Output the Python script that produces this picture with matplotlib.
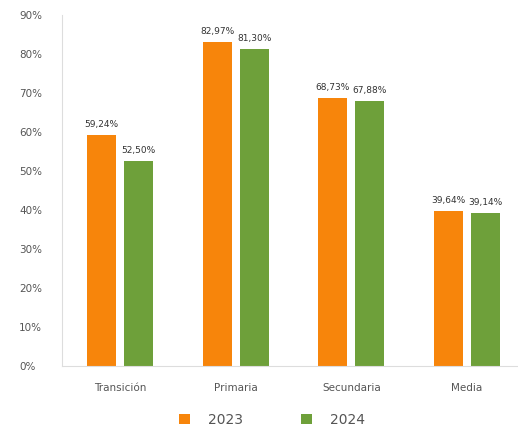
import numpy as np
import matplotlib.pyplot as plt

categories = ["Transición", "Primaria", "Secundaria", "Media"]
years = ["2023", "2024"]
values_2023 = [59.24, 82.97, 68.73, 39.64]
values_2024 = [52.50, 81.30, 67.88, 39.14]

orange = "#F7850B"
green = "#6EA03A"
text_gray = "#555555"

fig = plt.figure(figsize=(5.18, 4.33), dpi=100)
fig.patch.set_facecolor("white")
ax = fig.add_axes([62 / 518, 1 - 366 / 433, 456 / 518, 351 / 433])

x = np.arange(len(categories))
w = 0.25
off = 0.16
b1 = ax.bar(x - off, values_2023, w, color=orange, label=years[0])
b2 = ax.bar(x + off, values_2024, w, color=green, label=years[1])

def fmt(v):
    return f"{v:.2f}".replace(".", ",") + "%"

for bars, vals in [(b1, values_2023), (b2, values_2024)]:
    for rect, v in zip(bars, vals):
        ax.text(rect.get_x() + rect.get_width() / 2, v + 1.6, fmt(v),
                ha="center", va="bottom", fontsize=6.5, color="#333333")

ax.set_xlim(-0.5, 3.44)
ax.set_ylim(0, 90)
ax.set_yticks(np.arange(0, 91, 10))
ax.set_yticklabels([f"{t}%" for t in range(0, 91, 10)])
ax.set_xticks(x)
ax.set_xticklabels(categories)
ax.tick_params(axis="both", length=0, labelsize=7.5, colors=text_gray)
ax.tick_params(axis="y", pad=31)
ax.tick_params(axis="x", pad=12)
for lbl in ax.get_yticklabels():
    lbl.set_horizontalalignment("left")

for s in ["top", "right"]:
    ax.spines[s].set_visible(False)
ax.spines["left"].set_color("#dddddd")
ax.spines["bottom"].set_color("#dddddd")

fig.legend(handles=[b1, b2], labels=years, loc="center", bbox_to_anchor=(0.525, 1 - 420 / 433),
           ncol=2, frameon=False, fontsize=10, handlelength=0.8, handleheight=0.8,
           columnspacing=4.2, handletextpad=1.3, labelcolor=text_gray)

fig.savefig("out.png", dpi=100)
